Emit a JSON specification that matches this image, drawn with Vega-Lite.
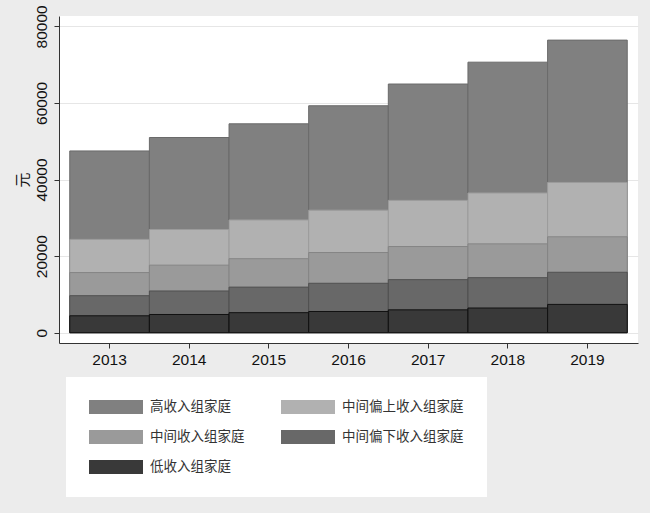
{
  "$schema": "https://vega.github.io/schema/vega-lite/v6.json",
  "autosize": {"type": "none"},
  "width": 579,
  "height": 327,
  "padding": {"left": 59, "top": 16, "right": 12, "bottom": 170},
  "background": "#ececec",
  "config": {"view": {"fill": "white", "stroke": null}, "font": "Liberation Sans"},
  "data": {"values": [
    {"year": "2013", "group": "高收入组家庭", "value": 47457},
    {"year": "2014", "group": "高收入组家庭", "value": 50968},
    {"year": "2015", "group": "高收入组家庭", "value": 54544},
    {"year": "2016", "group": "高收入组家庭", "value": 59259},
    {"year": "2017", "group": "高收入组家庭", "value": 64934},
    {"year": "2018", "group": "高收入组家庭", "value": 70640},
    {"year": "2019", "group": "高收入组家庭", "value": 76401},
    {"year": "2013", "group": "中间偏上收入组家庭", "value": 24361},
    {"year": "2014", "group": "中间偏上收入组家庭", "value": 26937},
    {"year": "2015", "group": "中间偏上收入组家庭", "value": 29438},
    {"year": "2016", "group": "中间偏上收入组家庭", "value": 31990},
    {"year": "2017", "group": "中间偏上收入组家庭", "value": 34547},
    {"year": "2018", "group": "中间偏上收入组家庭", "value": 36471},
    {"year": "2019", "group": "中间偏上收入组家庭", "value": 39230},
    {"year": "2013", "group": "中间收入组家庭", "value": 15698},
    {"year": "2014", "group": "中间收入组家庭", "value": 17631},
    {"year": "2015", "group": "中间收入组家庭", "value": 19320},
    {"year": "2016", "group": "中间收入组家庭", "value": 20924},
    {"year": "2017", "group": "中间收入组家庭", "value": 22495},
    {"year": "2018", "group": "中间收入组家庭", "value": 23189},
    {"year": "2019", "group": "中间收入组家庭", "value": 25035},
    {"year": "2013", "group": "中间偏下收入组家庭", "value": 9654},
    {"year": "2014", "group": "中间偏下收入组家庭", "value": 10887},
    {"year": "2015", "group": "中间偏下收入组家庭", "value": 11894},
    {"year": "2016", "group": "中间偏下收入组家庭", "value": 12899},
    {"year": "2017", "group": "中间偏下收入组家庭", "value": 13843},
    {"year": "2018", "group": "中间偏下收入组家庭", "value": 14361},
    {"year": "2019", "group": "中间偏下收入组家庭", "value": 15777},
    {"year": "2013", "group": "低收入组家庭", "value": 4402},
    {"year": "2014", "group": "低收入组家庭", "value": 4747},
    {"year": "2015", "group": "低收入组家庭", "value": 5221},
    {"year": "2016", "group": "低收入组家庭", "value": 5529},
    {"year": "2017", "group": "低收入组家庭", "value": 5958},
    {"year": "2018", "group": "低收入组家庭", "value": 6440},
    {"year": "2019", "group": "低收入组家庭", "value": 7380}
  ]},
  "mark": {"type": "bar", "strokeWidth": 1},
  "encoding": {
    "x": {
      "field": "year", "type": "ordinal",
      "scale": {"paddingInner": 0, "paddingOuter": 0.135},
      "axis": {"title": null, "labelAngle": 0, "labelFontSize": 15.5, "labelColor": "#111", "labelPadding": 4, "tickSize": 5, "tickColor": "#333", "domainColor": "#333", "grid": false}
    },
    "y": {
      "field": "value", "type": "quantitative",
      "scale": {"domain": [-2700, 82700], "nice": false, "zero": false},
      "axis": {"title": "元", "titleFont": "Noto Sans CJK SC", "titleFontWeight": "normal", "titleFontSize": 15, "titleColor": "#111", "titlePadding": 4,
               "values": [0, 20000, 40000, 60000, 80000], "format": "d", "labelAngle": 270, "labelAlign": "center", "labelBaseline": "bottom", "labelFontSize": 15.5, "labelColor": "#111", "labelPadding": 5,
               "tickSize": 5, "tickColor": "#333", "domainColor": "#333", "gridColor": "#e6e6e6", "gridWidth": 1.2}
    },
    "y2": {"datum": 0},
    "color": {
      "field": "group", "type": "nominal",
      "scale": {"domain": ["高收入组家庭", "中间偏上收入组家庭", "中间收入组家庭", "中间偏下收入组家庭", "低收入组家庭"],
                "range": ["#808080", "#b1b1b1", "#9a9a9a", "#686868", "#393939"]},
      "legend": {"orient": "none", "direction": "horizontal", "legendX": 7, "legendY": 361, "columns": 2, "title": null,
                 "symbolType": "M-1,-1L6.714,-1L6.714,1L-1,1Z", "symbolSize": 196, "symbolStrokeWidth": 0, "symbolOpacity": 1,
                 "labelFont": "Noto Sans CJK SC", "labelFontSize": 13.5, "labelColor": "#333", "labelOffset": 47,
                 "rowPadding": 16, "columnPadding": 36, "fillColor": "white", "padding": 23}
    },
    "stroke": {
      "field": "group", "type": "nominal",
      "scale": {"domain": ["高收入组家庭", "中间偏上收入组家庭", "中间收入组家庭", "中间偏下收入组家庭", "低收入组家庭"],
                "range": ["#6a6a6a", "#9c9c9c", "#858585", "#505050", "#111111"]},
      "legend": null
    }
  }
}
